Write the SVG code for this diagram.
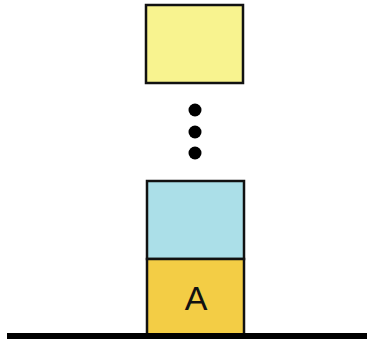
<svg xmlns="http://www.w3.org/2000/svg" width="367" height="339" viewBox="0 0 367 339">
<style>
.box{stroke:#111;stroke-width:2.5}
.dot{fill:#000}
</style>
<rect width="367" height="339" fill="#fff"/>
<g id="top"><rect class="box" x="146" y="5" width="97" height="78" fill="#f8f38f"/></g>
<g id="dots">
<circle class="dot" cx="195" cy="110" r="6.5"/>
<circle class="dot" cx="195" cy="132" r="6.5"/>
<circle class="dot" cx="195" cy="153" r="6.5"/>
</g>
<g id="blue"><rect class="box" x="147" y="181" width="97" height="78" fill="#abdfe8"/></g>
<g id="A"><rect class="box" x="147" y="259" width="97" height="76" fill="#f3cd45"/>
<text x="196" y="310" font-family="Liberation Sans, Arial, sans-serif" font-size="34" text-anchor="middle" fill="#111">A</text></g>
<g id="ground"><rect x="7" y="333" width="360" height="6" fill="#000"/></g>
</svg>
